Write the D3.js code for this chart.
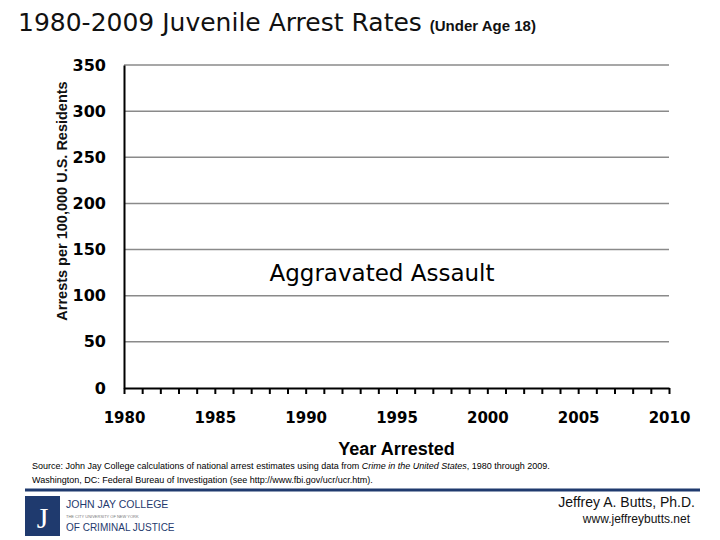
<!DOCTYPE html>
<html>
<head>
<meta charset="utf-8">
<script src="https://cdn.jsdelivr.net/npm/d3@7"></script>
<style>
  body { margin: 0; background: #fff; }
  svg { display: block; }
</style>
</head>
<body>
<div id="chart"></div>
<script>
(function () {
    'use strict';

    // data: the series itself is not drawn in this slide
    var years = d3.range(1980, 2011),
        xTickLabels = [1980, 1985, 1990, 1995, 2000, 2005, 2010],
        yTicks = [0, 50, 100, 150, 200, 250, 300, 350],
        rates = [];   // Aggravated Assault, no points shown

    var width = 720, height = 540;
    var margin = { left: 124, right: 51, top: 65, bottom: 152 };

    var svg = d3.select('#chart')
        .append('svg')
        .attr('width', width)
        .attr('height', height);

    var x = d3.scaleLinear()
        .domain([1980, 2010])
        .range([margin.left, width - margin.right]);

    var y = d3.scaleLinear()
        .domain([0, 350])
        .range([height - margin.bottom, margin.top]);

    // title
    var title = svg.append('text')
        .attr('x', 18)
        .attr('y', 31)
        .attr('font-family', 'DejaVu Sans')
        .attr('font-size', 25)
        .attr('fill', '#111');
    title.append('tspan').text('1980-2009 Juvenile Arrest Rates ');
    title.append('tspan')
        .attr('font-size', 15)
        .attr('font-family', 'Liberation Sans')
        .attr('font-weight', 'bold')
        .text('(Under Age 18)');

    // gridlines
    svg.append('g')
        .selectAll('line')
        .data(yTicks.filter(function (d) { return d > 0; }))
        .enter()
        .append('line')
        .attr('x1', x(1980))
        .attr('x2', x(2010))
        .attr('y1', function (d) { return y(d); })
        .attr('y2', function (d) { return y(d); })
        .attr('stroke', '#8a8a8a')
        .attr('stroke-width', 1.5);

    // y axis
    var yAxis = svg.append('g')
        .attr('transform', 'translate(' + x(1980) + ',0)')
        .call(d3.axisLeft(y).tickValues(yTicks).tickSize(0).tickPadding(18));
    yAxis.select('.domain').attr('stroke', '#000').attr('stroke-width', 2);
    yAxis.selectAll('text')
        .attr('font-family', 'DejaVu Sans')
        .attr('font-weight', 'bold')
        .attr('font-size', 16)
        .attr('fill', '#000');

    // x axis: a tick each year, labels every five
    var xAxis = svg.append('g')
        .attr('transform', 'translate(0,' + y(0) + ')')
        .call(d3.axisBottom(x)
            .tickValues(years)
            .tickSize(6)
            .tickSizeOuter(0)
            .tickPadding(18)
            .tickFormat(function (d) { return xTickLabels.indexOf(d) >= 0 ? d : ''; }));
    xAxis.select('.domain').attr('stroke', '#000').attr('stroke-width', 2);
    xAxis.selectAll('.tick line').attr('stroke', '#000').attr('stroke-width', 2);
    xAxis.selectAll('text')
        .attr('font-family', 'DejaVu Sans')
        .attr('font-weight', 'bold')
        .attr('font-size', 15)
        .attr('fill', '#000');

    // series line (empty)
    var line = d3.line()
        .x(function (d) { return x(d.year); })
        .y(function (d) { return y(d.value); });
    svg.append('path')
        .datum(rates)
        .attr('fill', 'none')
        .attr('stroke', '#000')
        .attr('stroke-width', 2)
        .attr('d', line);

    // axis titles
    svg.append('text')
        .attr('x', (x(1980) + x(2010)) / 2)
        .attr('y', 455)
        .attr('text-anchor', 'middle')
        .attr('font-family', 'Liberation Sans')
        .attr('font-weight', 'bold')
        .attr('font-size', 18)
        .text('Year Arrested');

    svg.append('text')
        .attr('transform', 'translate(67,' + 201 + ') rotate(-90)')
        .attr('text-anchor', 'middle')
        .attr('font-family', 'Liberation Sans')
        .attr('font-size', 14.5)
        .attr('font-weight', 'bold')
        .attr('fill', '#111')
        .text('Arrests per 100,000 U.S. Residents');

    // series label
    svg.append('rect')
        .attr('x', 262)
        .attr('y', 256)
        .attr('width', 242)
        .attr('height', 34)
        .attr('fill', '#fff');
    svg.append('text')
        .attr('x', 382)
        .attr('y', 281)
        .attr('text-anchor', 'middle')
        .attr('font-family', 'DejaVu Sans')
        .attr('font-size', 23)
        .attr('fill', '#000')
        .text('Aggravated Assault');

    // source note
    var src = svg.append('text')
        .attr('x', 32)
        .attr('y', 469)
        .attr('font-family', 'Liberation Sans')
        .attr('font-size', 9)
        .attr('fill', '#000');
    src.append('tspan').text('Source: John Jay College calculations of national arrest estimates using data from ');
    src.append('tspan').attr('font-style', 'italic').text('Crime in the United States');
    src.append('tspan').text(', 1980 through 2009.');
    svg.append('text')
        .attr('x', 32)
        .attr('y', 483)
        .attr('font-family', 'Liberation Sans')
        .attr('font-size', 9)
        .text('Washington, DC: Federal Bureau of Investigation (see http://www.fbi.gov/ucr/ucr.htm).');

    // footer band
    svg.append('line')
        .attr('x1', 25).attr('x2', 700)
        .attr('y1', 490).attr('y2', 490)
        .attr('stroke', '#1f3a6e')
        .attr('stroke-width', 3);

    svg.append('rect')
        .attr('x', 25).attr('y', 496)
        .attr('width', 35).attr('height', 40)
        .attr('fill', '#1f3a6e');
    svg.append('text')
        .attr('x', 42.5).attr('y', 528)
        .attr('text-anchor', 'middle')
        .attr('font-family', 'Liberation Serif')
        .attr('font-size', 30)
        .attr('fill', '#fff')
        .text('J');

    var logo = svg.append('g').attr('fill', '#1f3a6e').attr('font-family', 'Liberation Sans');
    logo.append('text').attr('x', 66).attr('y', 508).attr('font-size', 10.5).text('JOHN JAY COLLEGE');
    logo.append('text').attr('x', 66).attr('y', 518).attr('font-size', 4).attr('fill', '#777')
        .text('THE CITY UNIVERSITY OF NEW YORK');
    logo.append('text').attr('x', 66).attr('y', 531).attr('font-size', 10).text('OF CRIMINAL JUSTICE');

    svg.append('text')
        .attr('x', 695).attr('y', 507)
        .attr('text-anchor', 'end')
        .attr('font-family', 'Liberation Sans')
        .attr('font-size', 14)
        .attr('fill', '#111')
        .text('Jeffrey A. Butts, Ph.D.');
    svg.append('text')
        .attr('x', 690).attr('y', 523)
        .attr('text-anchor', 'end')
        .attr('font-family', 'Liberation Sans')
        .attr('font-size', 12)
        .attr('fill', '#111')
        .text('www.jeffreybutts.net');
}());
</script>
</body>
</html>
